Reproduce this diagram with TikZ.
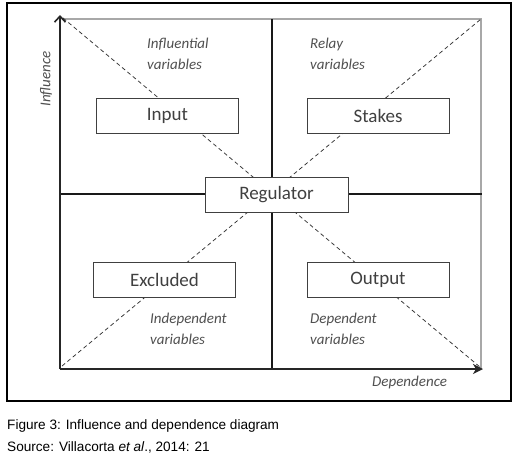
\documentclass[tikz,border=0pt]{standalone}
\usepackage{fontspec}
\setmainfont{Liberation Sans}
\newfontfamily\calibri{Carlito}
\usetikzlibrary{arrows.meta}
\definecolor{txtgray}{HTML}{404040}
\definecolor{lblgray}{HTML}{505050}
\definecolor{framegray}{HTML}{A8A8A8}
\begin{document}
\begin{tikzpicture}[x=1pt,y=-1pt,
  boxnode/.style={draw=black!75,line width=1pt,fill=white,minimum width=142pt,minimum height=35pt,inner sep=0pt,
    font=\calibri\fontsize{19}{21}\selectfont,text=txtgray},
  quadlabel/.style={anchor=base west,inner sep=0pt,font=\calibri\itshape\fontsize{15}{17}\selectfont,text=lblgray},
  axisline/.style={draw=black!85,line width=1.5pt},
  midline/.style={draw=black!90,line width=2.6pt},
  diag/.style={draw=black!80,line width=0.75pt,dash pattern=on 4pt off 3pt},
  grayline/.style={draw=framegray,line width=1.4pt},
  caption/.style={anchor=base west,inner sep=0pt,font=\fontsize{13.6}{15}\selectfont,text=black}]
\useasboundingbox (0,0) rectangle (522,459);
\fill[white] (0,0) rectangle (522,459);
\draw[line width=1.1pt] (7,3) rectangle (511,401);
% coordinates
\coordinate (O) at (60,369);
\coordinate (Ytop) at (60,15);
\coordinate (Xend) at (483,369);
\coordinate (TR) at (481,19);
\coordinate (TL) at (62,19);
\coordinate (ML) at (60,194);
\coordinate (MR) at (482,194);
\coordinate (MT) at (272,19);
\coordinate (MB) at (272,369);
\coordinate (D1a) at (63,18);
\coordinate (D1b) at (480,367);
\coordinate (D2a) at (62,366);
\coordinate (D2b) at (481,19);
% gray frame
\draw[grayline] (TL) -- (TR) -- (481,369);
% diagonals
\draw[diag] (D1a) -- (D1b);
\draw[diag] (D2a) -- (D2b);
% middle lines
\draw[midline] (ML) -- (MR);
\draw[midline] (MT) -- (MB);
% axes
\draw[axisline,-{Straight Barb[length=6pt,width=11pt,line width=1.6pt]}] (O) -- (Ytop);
\draw[axisline,-{Stealth[length=10pt,width=10pt,inset=3pt]}] (O) -- (Xend);
% boxes
\node[boxnode] (input) at (167.5,115.5) {Input};
\node[boxnode] (stakes) at (378,115.5) {Stakes};
\node[boxnode,minimum width=143pt] (regulator) at (276.5,194.5) {Regulator};
\node[boxnode] (excluded) at (164.5,279.5) {Excluded};
\node[boxnode] (output) at (378,279.5) {Output};
% quadrant labels
\node[quadlabel] (infl1) at (147,48) {Influential};
\node[quadlabel] (infl2) at (147,69) {variables};
\node[quadlabel] (rel1) at (310,48) {Relay};
\node[quadlabel] (rel2) at (310,69) {variables};
\node[quadlabel] (ind1) at (150,323) {Independent};
\node[quadlabel] (ind2) at (150,344) {variables};
\node[quadlabel] (dep1) at (310,323) {Dependent};
\node[quadlabel] (dep2) at (310,344) {variables};
\node[quadlabel] (dependence) at (372,386) {Dependence};
\node[quadlabel,anchor=center,rotate=90] (influence) at (46,79) {Influence};
% caption
\node[caption] (cap1) at (7,429) {Figure 3: Influence and dependence diagram};
\node[caption] (cap2) at (7,451) {Source: Villacorta \textit{et al}., 2014: 21};
\end{tikzpicture}
\end{document}
